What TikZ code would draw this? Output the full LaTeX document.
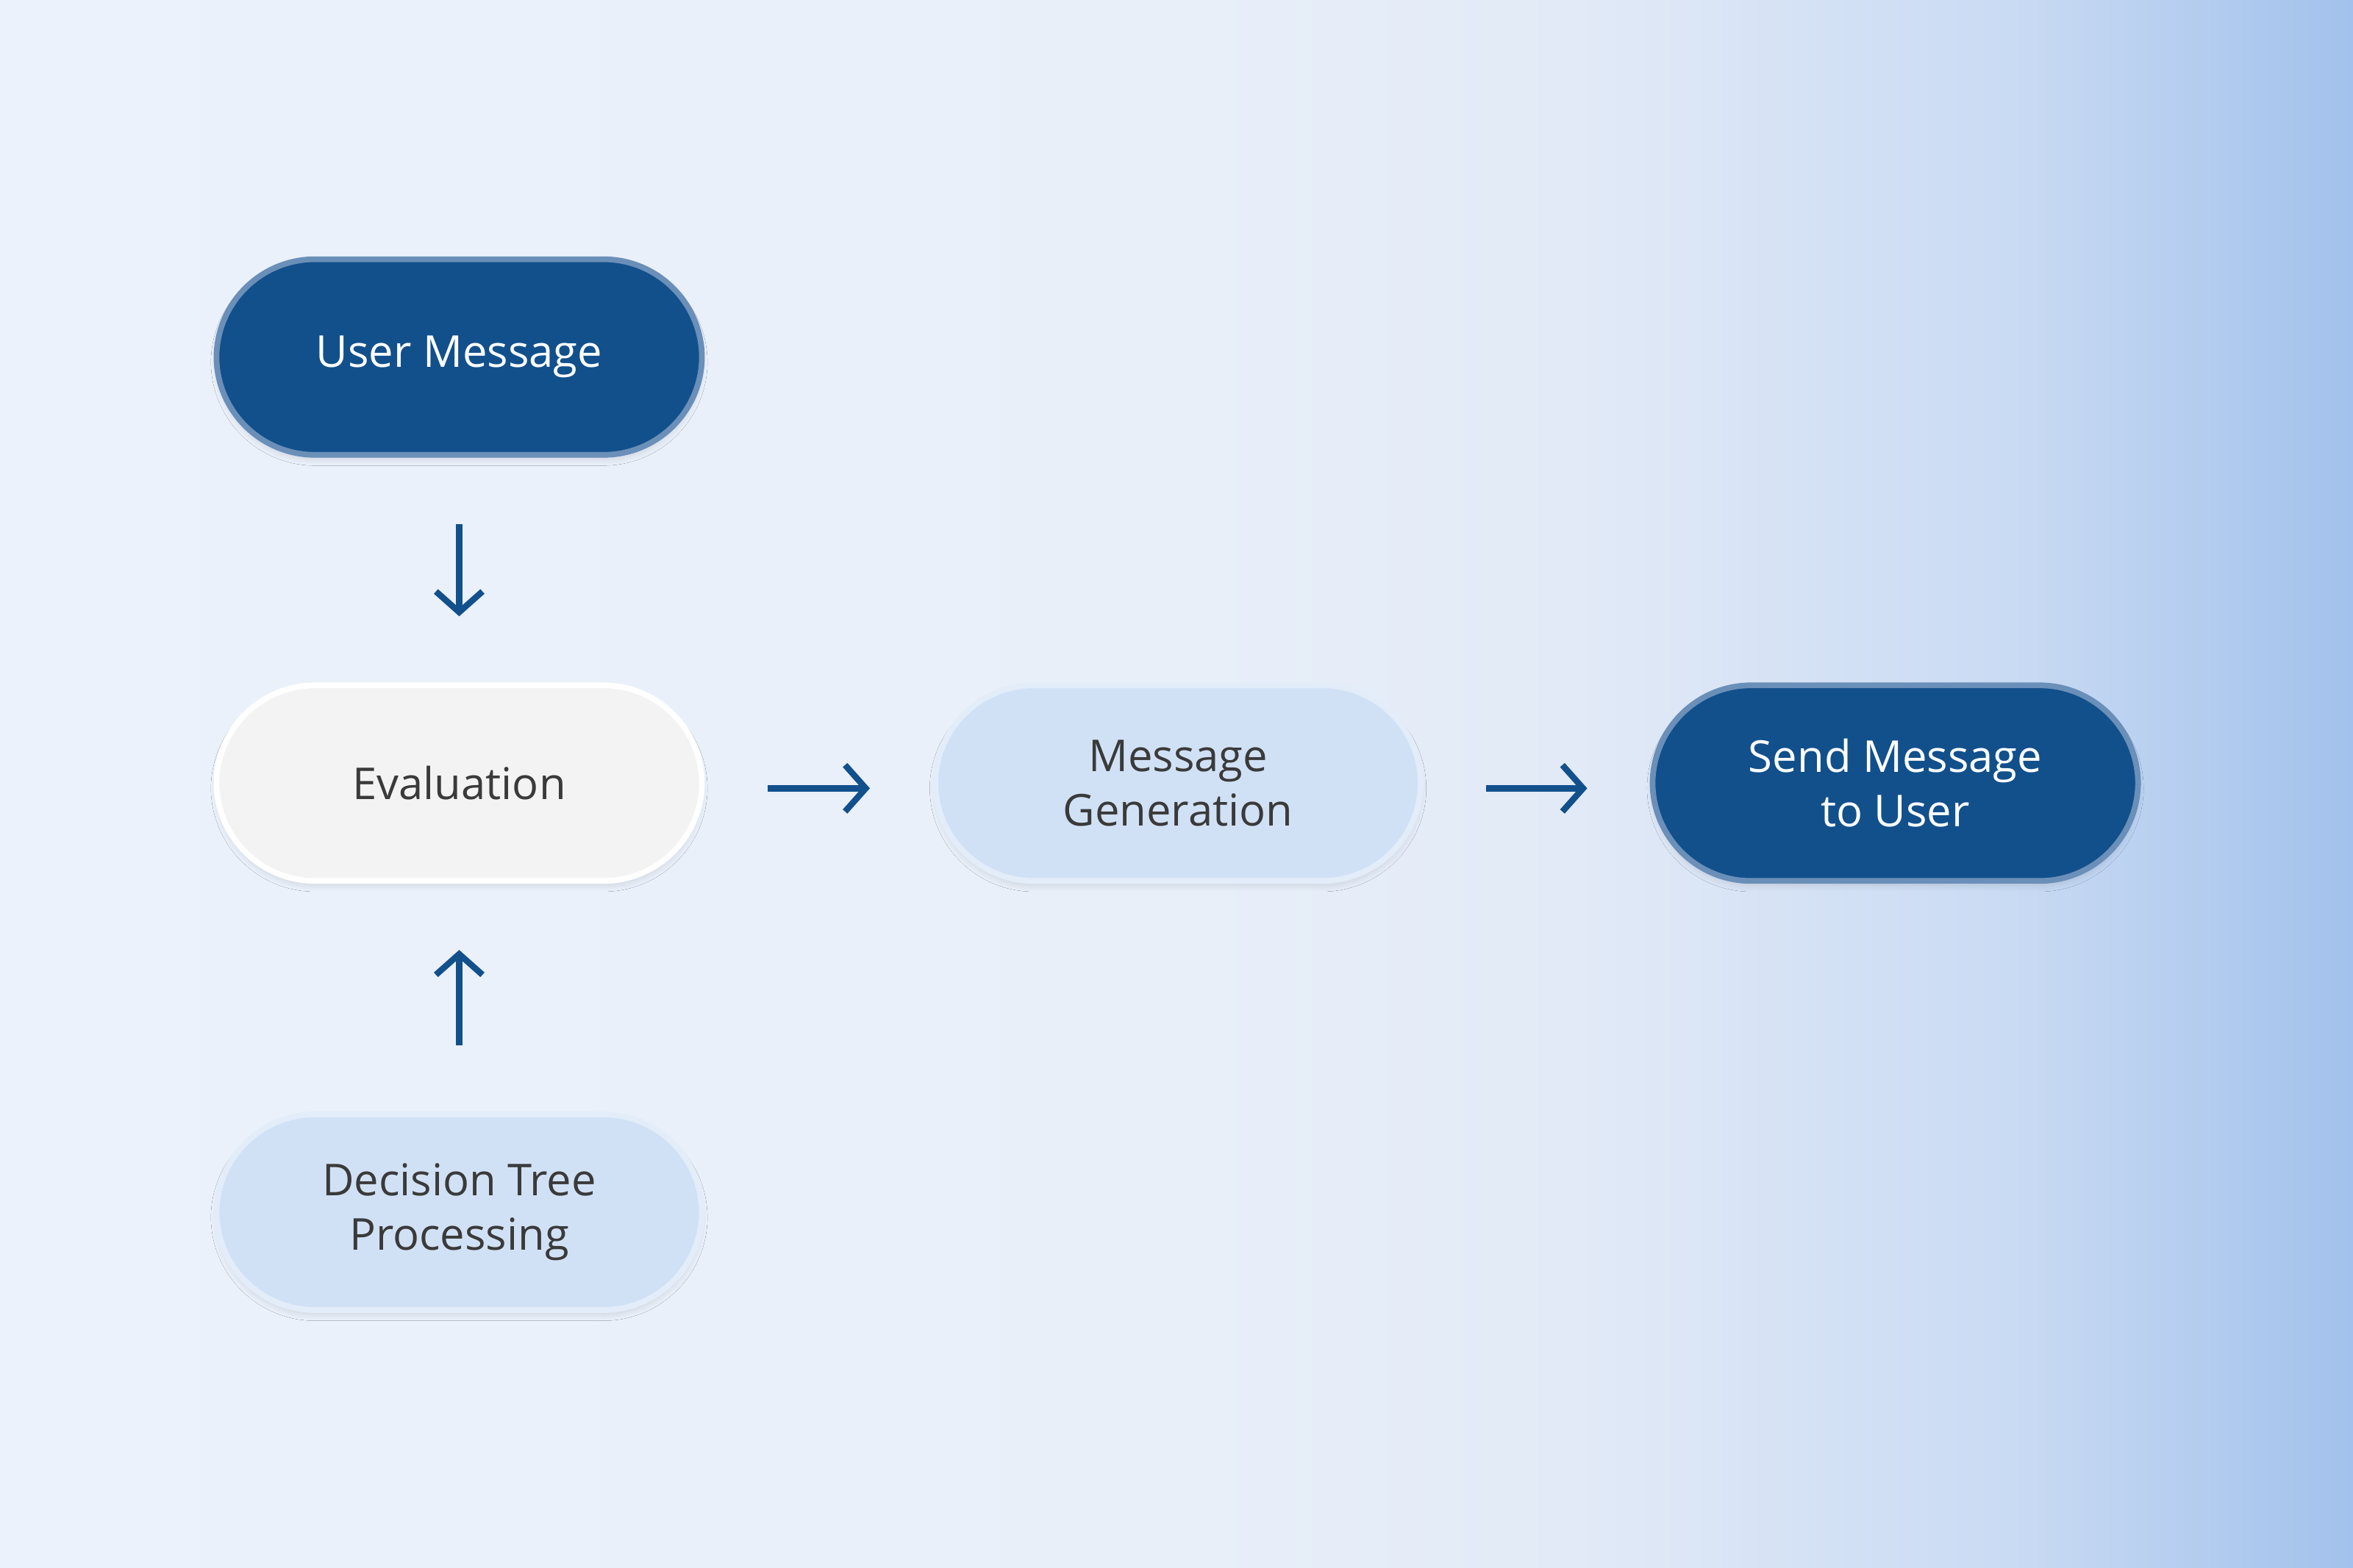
\documentclass[tikz,border=0pt]{standalone}
\usepackage{fontspec}
\setmainfont{Open Sans}
\usetikzlibrary{arrows.meta,shadows.blur}
\definecolor{dark}{HTML}{12508C}
\definecolor{darkb}{HTML}{6A8FB8}
\definecolor{light}{HTML}{D1E1F5}
\definecolor{eval}{HTML}{F4F3F4}
\definecolor{txt}{HTML}{3A3A3A}
\definecolor{bga}{HTML}{EBF2FB}
\definecolor{bgb}{HTML}{E8EFF9}
\definecolor{bgc}{HTML}{E2EAF7}
\definecolor{bgd}{HTML}{C8DAF3}
\definecolor{bge}{HTML}{A2C1EC}
\begin{document}
\begin{tikzpicture}[x=0.020408cm,y=-0.020408cm,
  pill/.style={rounded corners=1.34cm,minimum width=6.6cm,minimum height=2.66cm,align=center,font=\fontsize{17}{21}\selectfont,line width=2.2pt,blur shadow={shadow blur steps=8,shadow xshift=0pt,shadow yshift=-2pt,shadow opacity=10}},
  darkpill/.style={pill,fill=dark,draw=darkb,text=white},
  lightpill/.style={pill,fill=light,draw=light!60!white,text=txt},
  evalpill/.style={pill,fill=eval,draw=white,text=txt},
  arr/.style={draw=dark,line width=2.4pt,-{Straight Barb[length=8pt,width=18pt,line width=2.4pt]}}]
\useasboundingbox (0,0) rectangle (1568,1045);
\shade[left color=bga,right color=bgb] (0,0) rectangle (800,1045);
\shade[left color=bgb,right color=bgc] (799,0) rectangle (1050,1045);
\shade[left color=bgc,right color=bgd] (1049,0) rectangle (1350,1045);
\shade[left color=bgd,right color=bge] (1349,0) rectangle (1568,1045);
\node[darkpill] (um) at (306,238) {User Message};
\node[evalpill] (ev) at (306,522) {Evaluation};
\node[lightpill] (dt) at (306,808) {Decision Tree\\Processing};
\node[lightpill] (mg) at (785,522) {Message\\Generation};
\node[darkpill] (su) at (1263,522) {Send Message\\to User};
\draw[arr] ([yshift=-0.9cm]um.south) -- ([yshift=0.9cm]ev.north);
\draw[arr] ([yshift=0.9cm]dt.north) -- ([yshift=-0.9cm]ev.south);
\draw[arr] ([xshift=0.85cm,yshift=-2pt]ev.east) -- ([xshift=-0.85cm,yshift=-2pt]mg.west);
\draw[arr] ([xshift=0.85cm,yshift=-2pt]mg.east) -- ([xshift=-0.85cm,yshift=-2pt]su.west);
\end{tikzpicture}
\end{document}
